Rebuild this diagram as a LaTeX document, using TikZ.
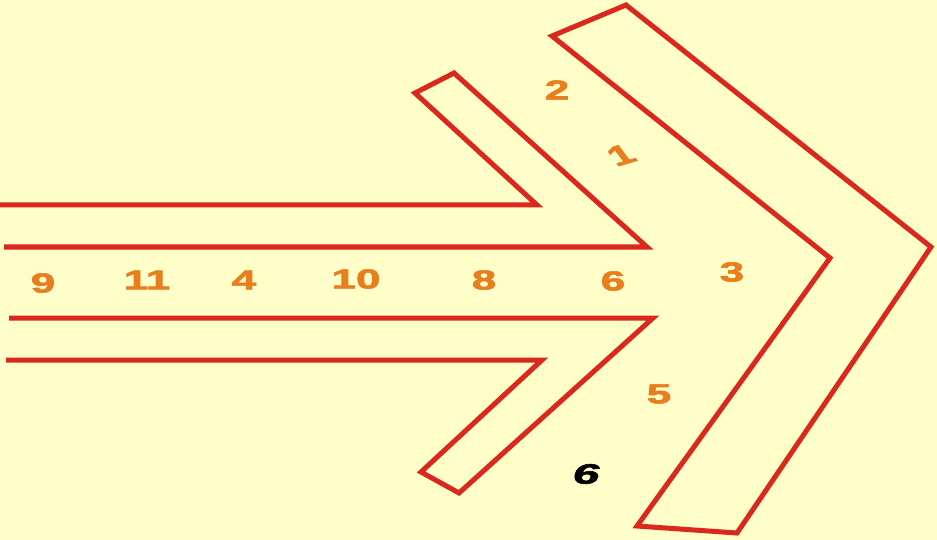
\documentclass[tikz,border=0pt]{standalone}
\usepackage{fontspec}
\setmainfont{Liberation Sans}
\newfontfamily\heavyfont[FakeBold=2]{Liberation Sans Bold}
\newfontfamily\heavyitfont[FakeBold=2]{Liberation Sans Bold Italic}
\definecolor{bgyel}{RGB}{255,253,200}
\definecolor{linered}{RGB}{218,40,30}
\definecolor{numorange}{RGB}{232,126,30}
\begin{document}
\begin{tikzpicture}[x=1pt,y=-1pt,
  outline/.style={draw=linered,line width=5pt,line join=miter},
  num/.style={text=numorange,font=\fontsize{27.5}{28}\heavyfont,inner sep=0pt,xscale=1.6},
  numblack/.style={text=black,font=\fontsize{28}{28}\heavyitfont,inner sep=0pt,xscale=1.7}]
\fill[bgyel] (0,0) rectangle (937,540);
\useasboundingbox (0,0) rectangle (937,540);
% upper barb
\draw[outline] (0,205) -- (537,205) -- (415,93) -- (454,73) -- (647,247) -- (4,247);
% lower barb
\draw[outline] (9,318) -- (653,318) -- (459,493) -- (421,472) -- (542,360) -- (6,360);
% chevron
\draw[outline] (552,36) -- (626,5) -- (931,247) -- (737,533) -- (637,526) -- (830,258) -- cycle;
% labels
\node[num] (n9) at (43,283) {9};
\node[num] (n11) at (147,280) {11};
\node[num] (n4) at (244,280) {4};
\node[num] (n10) at (356,279) {10};
\node[num] (n8) at (484,280) {8};
\node[num] (n6) at (613,281) {6};
\node[num] (n3) at (732,272) {3};
\node[num] (n2) at (557,90) {2};
\node[num] (n5) at (659,394) {5};
\node[num,rotate=25] (n1) at (621,155) {1};
\node[numblack] (n6b) at (586,474) {6};
\end{tikzpicture}
\end{document}
